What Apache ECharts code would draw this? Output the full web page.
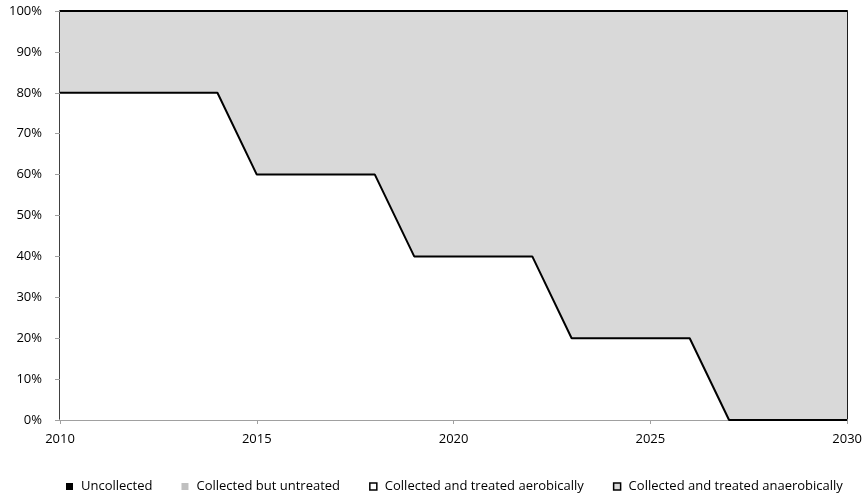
<!DOCTYPE html>
<html>
<head>
<meta charset="utf-8">
<script src="https://cdn.jsdelivr.net/npm/echarts@6/dist/echarts.min.js"></script>
<style>html,body{margin:0;padding:0;background:#fff}#c{width:865px;height:496px}</style>
</head>
<body>
<div id="c"></div>
<script>
var years = [2010,2011,2012,2013,2014,2015,2016,2017,2018,2019,2020,2021,2022,2023,2024,2025,2026,2027,2028,2029,2030];
var uncollected = [0,0,0,0,0,0,0,0,0,0,0,0,0,0,0,0,0,0,0,0,0];
var collectedUntreated = [0,0,0,0,0,0,0,0,0,0,0,0,0,0,0,0,0,0,0,0,0];
var aerobic = [80,80,80,80,80,60,60,60,60,40,40,40,40,20,20,20,20,0,0,0,0];
var anaerobic = [20,20,20,20,20,40,40,40,40,60,60,60,60,80,80,80,80,100,100,100,100];
var yTicks = [0,10,20,30,40,50,60,70,80,90,100];
var seriesNames = ['Uncollected','Collected but untreated','Collected and treated aerobically','Collected and treated anaerobically'];

var font = 'Open Sans';
var chart = echarts.init(document.getElementById('c'), null, {renderer:'canvas'});
chart.setOption({
  animation:false,
  textStyle:{fontFamily:font},
  grid:{left:60, right:15, top:11, bottom:76, show:true, borderColor:'#a6a6a6', borderWidth:1},
  legend:{
    bottom:3, left:66, padding:0, icon:'rect', itemWidth:7, itemHeight:7, itemGap:29,
    textStyle:{fontFamily:font, fontSize:13, color:'#000', padding:[0,0,0,3]},
    data:[
      {name:seriesNames[0], itemStyle:{color:'#000', borderWidth:0}},
      {name:seriesNames[1], itemStyle:{color:'#c0c0c0', borderWidth:0}},
      {name:seriesNames[2], itemStyle:{color:'#fff', borderColor:'#000', borderWidth:1.5}},
      {name:seriesNames[3], itemStyle:{color:'#d9d9d9', borderColor:'#000', borderWidth:1.5}}
    ]
  },
  xAxis:{
    type:'category', data:years, boundaryGap:false,
    axisLine:{show:true, onZero:false, lineStyle:{color:'#a0a0a0', width:2}},
    axisTick:{show:true, interval:4, length:4, lineStyle:{color:'#a0a0a0'}},
    axisLabel:{fontSize:13, color:'#000', margin:13, interval:4},
    splitLine:{show:false}
  },
  yAxis:[{
    type:'value', min:0, max:100, interval:10,
    axisLine:{show:true, lineStyle:{color:'#404040', width:2}},
    axisTick:{show:true, length:5, lineStyle:{color:'#a0a0a0'}},
    axisLabel:{fontSize:13, color:'#000', margin:18, formatter:function(v){return yTicks.indexOf(v)>=0 ? v+'%' : '';}},
    splitLine:{show:false}
  },{
    type:'value', min:0, max:100, interval:10, position:'right',
    axisLine:{show:true, lineStyle:{color:'#000', width:2}},
    axisTick:{show:false}, axisLabel:{show:false}, splitLine:{show:false}
  }],
  series:[
    {name:seriesNames[0], type:'line', stack:'t', data:uncollected, symbol:'none',
     lineStyle:{width:0}, areaStyle:{color:'#000'}, itemStyle:{color:'#000'}},
    {name:seriesNames[1], type:'line', stack:'t', data:collectedUntreated, symbol:'none',
     lineStyle:{width:0}, areaStyle:{color:'#c0c0c0'}, itemStyle:{color:'#c0c0c0'}},
    {name:seriesNames[2], type:'line', stack:'t', data:aerobic, symbol:'none',
     lineStyle:{width:2, color:'#000'}, areaStyle:{color:'#fff', opacity:1}, itemStyle:{color:'#fff'}},
    {name:seriesNames[3], type:'line', stack:'t', data:anaerobic, symbol:'none',
     lineStyle:{width:2, color:'#000'}, areaStyle:{color:'#d9d9d9', opacity:1}, itemStyle:{color:'#d9d9d9'}}
  ]
});
</script>
</body>
</html>
